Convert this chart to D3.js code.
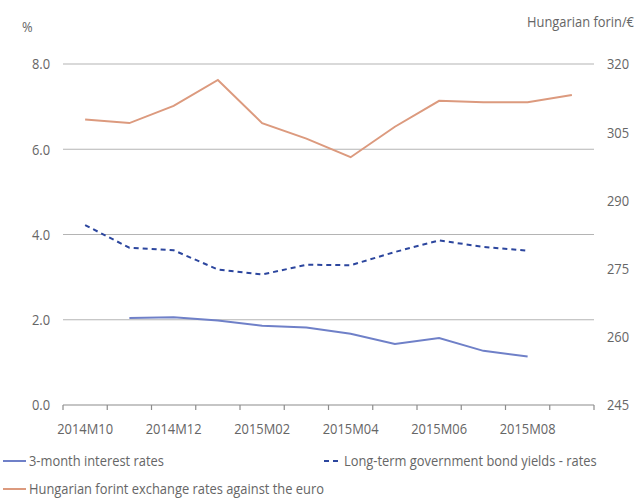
<!DOCTYPE html>
<html><head><meta charset="utf-8">
<script src="https://cdn.jsdelivr.net/npm/d3@7"></script>
<style>
body{margin:0;background:#fff;}
text{font-family:"Open Sans",sans-serif;fill:#666;}
</style></head>
<body><svg id="c" width="636" height="498"></svg>
<script>
const months = ["2014M10","2014M11","2014M12","2015M01","2015M02","2015M03","2015M04","2015M05","2015M06","2015M07","2015M08","2015M09"];
const tickLabels = ["2014M10","2014M12","2015M02","2015M04","2015M06","2015M08"];
const rate3m = [null,2.04,2.06,1.98,1.86,1.82,1.67,1.43,1.57,1.27,1.14,null];
const longTerm = [4.22,3.69,3.63,3.18,3.06,3.29,3.28,3.59,3.86,3.71,3.62,null];
const forint = [307.8,307.0,310.8,316.5,307.0,303.6,299.5,306.2,311.9,311.6,311.6,313.2];
const leftTicks = [0,2,4,6,8];
const rightTicks = [245,260,275,290,305,320];

const svg = d3.select("#c");
const L=63,R=594,T=64,B=405;
const x = d3.scaleBand().domain(months).range([L,R]).padding(0);
const yL = d3.scaleLinear().domain([0,8]).range([B,T]);
const yR = d3.scaleLinear().domain([245,320]).range([B,T]);
const cx = d => x(d)+x.bandwidth()/2;

// gridlines
svg.append("g").selectAll("line").data(leftTicks.filter(d=>d>0)).join("line")
  .attr("x1",L).attr("x2",R).attr("y1",d=>yL(d)).attr("y2",d=>yL(d))
  .attr("stroke","#b4b4b4").attr("stroke-width",1.2);

// left axis labels
const ga = svg.append("g").attr("transform",`translate(${L},0)`)
  .call(d3.axisLeft(yL).tickValues(leftTicks).tickFormat(d3.format(".1f")).tickSize(0).tickPadding(13));
ga.select(".domain").remove();
ga.selectAll("text").style("font-size","15px").attr("fill","#666");

// right axis labels
const gr = svg.append("g").attr("transform",`translate(${R},0)`)
  .call(d3.axisRight(yR).tickValues(rightTicks).tickSize(0).tickPadding(13));
gr.select(".domain").remove();
gr.selectAll("text").style("font-size","15px").attr("fill","#666");

// x axis
const gx = svg.append("g").attr("transform",`translate(0,${B})`)
  .call(d3.axisBottom(x).tickValues(tickLabels).tickSize(0).tickPadding(18));
gx.select(".domain").remove();
gx.selectAll("text").style("font-size","15px").attr("fill","#666");
svg.append("line").attr("x1",L).attr("x2",R).attr("y1",B).attr("y2",B).attr("stroke","#8c8c8c").attr("stroke-width",1.2);
svg.append("g").selectAll("line").data(months.map(m=>x(m)).concat([R])).join("line")
  .attr("x1",d=>d).attr("x2",d=>d).attr("y1",B).attr("y2",B+5).attr("stroke","#8c8c8c").attr("stroke-width",1.2);

// unit labels
svg.append("text").attr("x",22).attr("y",32).text("%").style("font-size","15px");
svg.append("text").attr("x",634).attr("y",27).attr("text-anchor","end").text("Hungarian forin/€").style("font-size","15px");

// lines
const mk = (arr,y) => d3.line().defined(d=>d.v!=null).x(d=>cx(d.m)).y(d=>y(d.v))(months.map((m,i)=>({m,v:arr[i]})));
svg.append("path").attr("d",mk(forint,yR)).attr("fill","none").attr("stroke","#dc9a7e").attr("stroke-width",2);
svg.append("path").attr("d",mk(longTerm,yL)).attr("fill","none").attr("stroke","#2c469e").attr("stroke-width",2).attr("stroke-dasharray","5,4");
svg.append("path").attr("d",mk(rate3m,yL)).attr("fill","none").attr("stroke","#6f80c8").attr("stroke-width",2);

// legend
const leg = [
  {t:"3-month interest rates",c:"#6f80c8",d:null,x:3,w:23,y:461},
  {t:"Long-term government bond yields - rates",c:"#2c469e",d:"5,4",x:324,w:17,y:461},
  {t:"Hungarian forint exchange rates against the euro",c:"#dc9a7e",d:null,x:3,w:23,y:489}
];
const lg = svg.append("g").selectAll("g").data(leg).join("g");
lg.append("line").attr("x1",d=>d.x).attr("x2",d=>d.x+d.w).attr("y1",d=>d.y).attr("y2",d=>d.y)
  .attr("stroke",d=>d.c).attr("stroke-width",2).attr("stroke-dasharray",d=>d.d);
lg.append("text").attr("x",d=>d.x+d.w+3).attr("y",d=>d.y+5).text(d=>d.t).style("font-size","15px");

// condense text horizontally around its anchor to match the narrow typeface of the original
svg.selectAll("text").each(function(){
  const ax = +(this.getAttribute("x") || 0);
  d3.select(this).attr("transform", `translate(${ax},0) scale(0.86,1) translate(${-ax},0)`);
});
</script></body></html>
